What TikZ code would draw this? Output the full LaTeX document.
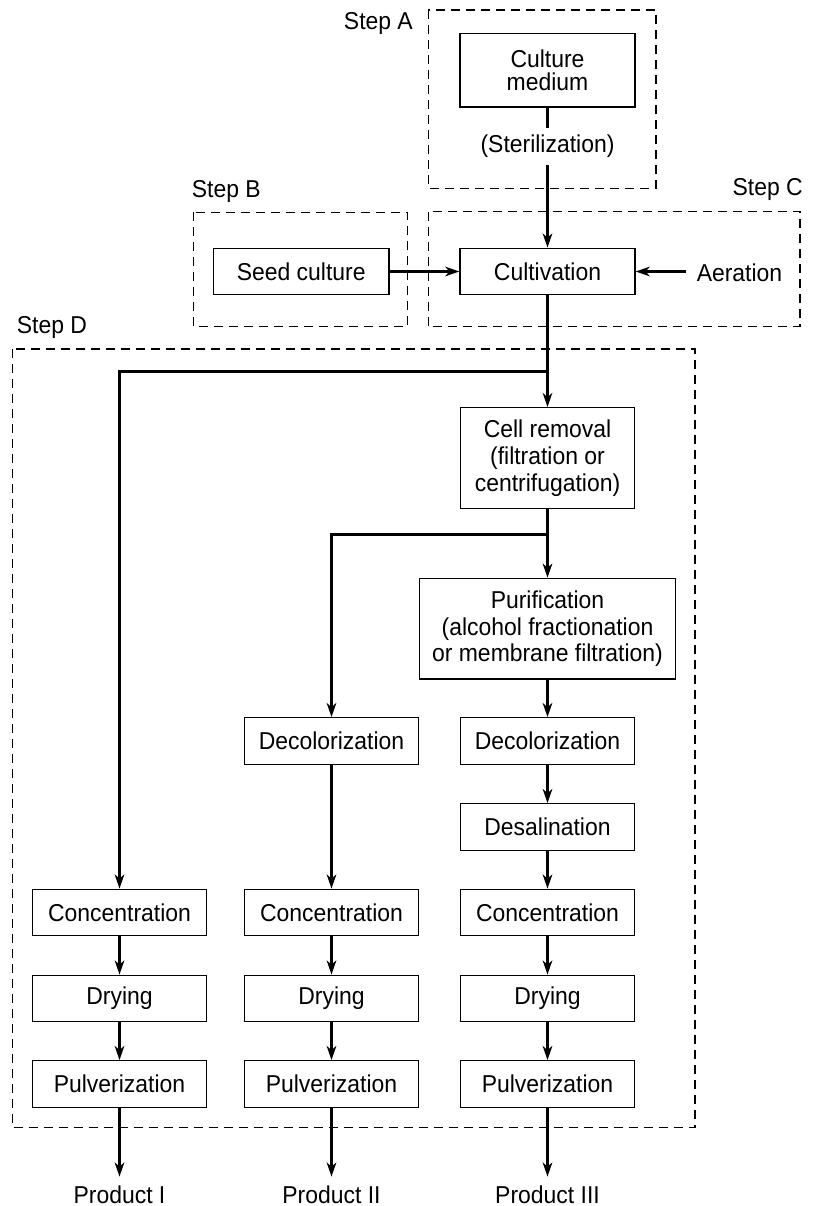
\documentclass[tikz,border=0pt]{standalone}
\usepackage{fontspec}
\setmainfont{Liberation Sans}[FakeStretch=0.94]
\usetikzlibrary{arrows.meta}
\begin{document}
\begin{tikzpicture}[x=1pt,y=-1pt,
  every node/.style={font=\fontsize{24.4}{26.8}\selectfont},
  box/.style={draw, line width=1.3pt, align=center, inner sep=0pt, minimum width=174.5pt, minimum height=46.5pt},
  frame/.style={draw, line width=1.2pt, dash pattern=on 9pt off 6pt},
  link/.style={draw, line width=2.8pt, line join=miter},
  arr/.style={draw, line width=2.8pt, line join=miter, -{Stealth[length=14pt,width=9.5pt,inset=4pt]}},
  lbl/.style={inner sep=0pt, anchor=base},
  prod/.style={inner sep=0pt, anchor=base}
]
\useasboundingbox (0,0) rectangle (818,1206);

% dashed frames
\draw[frame] (428.3,10) rectangle (656,188.3);
\draw[frame] (193.3,212.3) rectangle (407.3,326.7);
\draw[frame] (428.3,211.7) rectangle (800,326.7);
\draw[frame] (12.3,349) rectangle (695,1127.7);

% step labels
\node[lbl, anchor=base east] (lA) at (413,30) {Step A};
\node[lbl, anchor=base west] (lB) at (191.7,198) {Step B};
\node[lbl, anchor=base east] (lC) at (803,196) {Step C};
\node[lbl, anchor=base west] (lD) at (16.7,333) {Step D};

% top part
\node[box, minimum width=175pt, minimum height=73.7pt] (culture) at (547.5,70.2) {Culture\\[-3pt]medium};
\node[inner sep=0pt, minimum height=37pt] (steril) at (547.5,146.5) {(Sterilization)};
\node[box, minimum width=175.7pt] (seed) at (301.2,271.5) {Seed culture};
\node[box, minimum width=175pt] (cultiv) at (547.5,271.5) {Cultivation};
\node[inner ysep=0pt, inner xsep=10.5pt] (aer) at (739.5,273) {Aeration};

% column 3
\node[box, minimum height=100.6pt] (cell) at (547.5,458) {Cell removal\\(filtration or\\centrifugation)};
\node[box, minimum width=256pt, minimum height=100.7pt] (purif) at (547.5,628.7) {Purification\\(alcohol fractionation\\or membrane filtration)};
\node[box] (dec3) at (547.5,741) {Decolorization};
\node[box] (desal3) at (547.5,827) {Desalination};
\node[box] (conc3) at (547.5,912.5) {Concentration};
\node[box] (dry3) at (547.5,998.5) {Drying};
\node[box] (pulv3) at (547.5,1084) {Pulverization};

% column 2
\node[box] (dec2) at (331.5,741) {Decolorization};
\node[box] (conc2) at (331.5,912.5) {Concentration};
\node[box] (dry2) at (331.5,998.5) {Drying};
\node[box] (pulv2) at (331.5,1084) {Pulverization};

% column 1
\node[box] (conc1) at (119.5,912.5) {Concentration};
\node[box] (dry1) at (119.5,998.5) {Drying};
\node[box] (pulv1) at (119.5,1084) {Pulverization};

% products
\node[prod] (p1) at (119.5,1203) {Product I};
\node[prod] (p2) at (331.5,1203) {Product II};
\node[prod] (p3) at (547.5,1203) {Product III};

% branch points
\coordinate (b1) at (547.5,371.5);
\coordinate (b1l) at (119.5,371.5);
\coordinate (b2) at (547.5,534.5);
\coordinate (b2l) at (331.5,534.5);

% connectors
\path[link] (culture) -- (steril);
\path[arr] (steril) -- (cultiv);
\path[arr] (seed) -- (cultiv);
\path[arr] (aer.west |- cultiv.east) -- (cultiv.east);
\path[arr] (cultiv) -- (cell);
\path[arr] (b1) -- (b1l) -- (conc1);
\path[arr] (cell) -- (purif);
\path[arr] (b2) -- (b2l) -- (dec2);
\path[arr] (purif) -- (dec3);
\path[arr] (dec3) -- (desal3);
\path[arr] (desal3) -- (conc3);
\path[arr] (conc3) -- (dry3);
\path[arr] (dry3) -- (pulv3);
\path[arr, shorten >=8.5pt] (pulv3) -- (p3);
\path[arr] (dec2) -- (conc2);
\path[arr] (conc2) -- (dry2);
\path[arr] (dry2) -- (pulv2);
\path[arr, shorten >=8.5pt] (pulv2) -- (p2);
\path[arr] (conc1) -- (dry1);
\path[arr] (dry1) -- (pulv1);
\path[arr, shorten >=8.5pt] (pulv1) -- (p1);
\end{tikzpicture}
\end{document}
